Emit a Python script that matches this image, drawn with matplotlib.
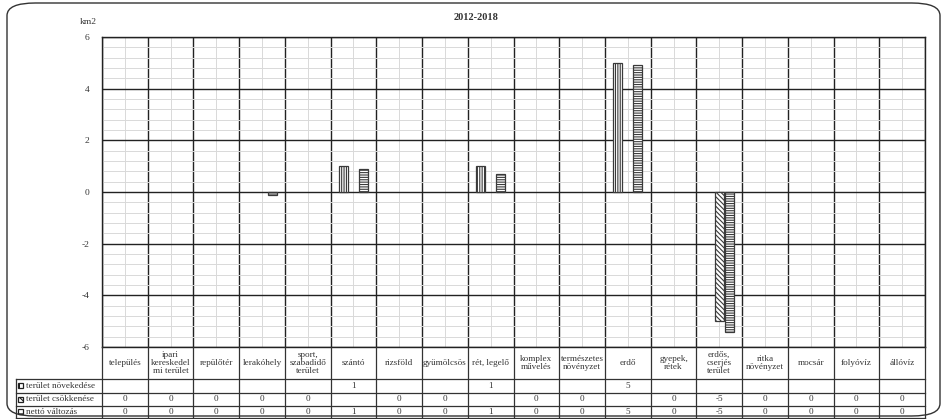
import numpy as np
import matplotlib
matplotlib.use('Agg')
import matplotlib.pyplot as plt
from matplotlib.patches import Rectangle, FancyBboxPatch

# data
categories = ['település', 'ipari\nkereskedel\nmi terület', 'repülőtér', 'lerakóhely',
              'sport,\nszabadidő\nterület', 'szántó', 'rizsföld', 'gyümölcsös', 'rét, legelő',
              'komplex\nművelés', 'természetes\nnövényzet', 'erdő', 'gyepek,\nrétek',
              'erdős,\ncserjés\nterület', 'ritka\nnövényzet', 'mocsár', 'folyóvíz', 'állóvíz']
series_names = ['terület növekedése', 'terület csökkenése', 'nettó változás']
novekedes = [None, None, None, None, None, 1, None, None, 1, None, None, 5, None, None, None, None, None, None]
csokkenes = [0, 0, 0, 0, 0, None, 0, 0, None, 0, 0, None, 0, -5, 0, 0, 0, 0]
netto = [0, 0, 0, -0.1, 0, 0.88, 0, 0, 0.7, 0, 0, 4.9, 0, -5.43, 0, 0, 0, 0]
y_ticks = [-6, -4, -2, 0, 2, 4, 6]

series = [novekedes, csokkenes, netto]
hatches = ['|||||||', '\\\\\\\\\\\\\\', '-------']

plt.rcParams['font.family'] = ['Liberation Serif', 'DejaVu Serif']
plt.rcParams['hatch.linewidth'] = 0.8
plt.rcParams['axes.unicode_minus'] = False
txt_col = '#333333'

W, H = 947, 419
fig = plt.figure(figsize=(W / 100, H / 100), dpi=100)

# outer rounded frame
frame = FancyBboxPatch((7 / W, 1 - 416 / H), 933 / W, 413 / H,
                       boxstyle='round,pad=0,rounding_size=0.03',
                       transform=fig.transFigure, fill=False, ec='#333333', lw=1.0)
fig.patches.append(frame)

pl, pr, pt, pb = 102, 925, 37, 347
ax = fig.add_axes([pl / W, 1 - pb / H, (pr - pl) / W, (pb - pt) / H])
n = len(categories)
x = np.arange(n)
ax.set_xlim(-0.5, n - 0.5)
ax.set_ylim(-6, 6)

# grid
ax.set_yticks(y_ticks)
ax.set_yticks(np.arange(-6, 6.01, 0.4), minor=True)
ax.set_xticks(np.arange(-0.5, n, 1.0))
ax.set_xticks(x, minor=True)
ax.grid(which='minor', color='#d9d9d9', lw=0.7)
ax.grid(which='major', color='#222222', lw=1.0)
ax.set_axisbelow(True)
ax.tick_params(which='both', length=0)
ax.tick_params(axis='x', labelbottom=False)
ax.tick_params(axis='y', labelsize=6.8, labelcolor=txt_col, pad=9)
for s in ax.spines.values():
    s.set_color('#222222')
    s.set_linewidth(1.0)

bw = 0.2
offsets = [-0.22, 0.0, 0.22]
for vals, off, h in zip(series, offsets, hatches):
    v = np.array([0 if a is None else a for a in vals], dtype=float)
    mask = v != 0
    ax.bar(x[mask] + off, v[mask], width=bw, color='white', edgecolor='#3a3a3a',
           hatch=h, lw=0.9, zorder=3)

fig.text(88 / W, 1 - 22 / H, 'km2', ha='center', va='center', fontsize=6.8, color=txt_col)
fig.text(476 / W, 1 - 18 / H, '2012-2018', ha='center', va='center', fontsize=7.5,
         color=txt_col, fontweight='bold')

# data table
tl, tb = 16, 418
hdr_w = (pl - tl) / ((pr - pl) / n)
tax = fig.add_axes([tl / W, 1 - tb / H, (pr - tl) / W, (tb - pb) / H])
tax.set_xlim(-0.5 - hdr_w, n - 0.5)
tax.set_ylim(tb - pb, 0)
tax.axis('off')
row_y = [0, 32, 45.5, 58.5, tb - pb]
lc = '#333333'
for i in range(n + 1):
    tax.plot([i - 0.5, i - 0.5], [row_y[0], row_y[-1]], color=lc, lw=0.9, clip_on=False)
tax.plot([-0.5 - hdr_w] * 2, [row_y[1], row_y[-1]], color=lc, lw=0.9, clip_on=False)
for yy in row_y[1:]:
    tax.plot([-0.5 - hdr_w, n - 0.5], [yy, yy], color=lc, lw=0.9, clip_on=False)

for i, c in enumerate(categories):
    tax.text(i, row_y[1] / 2, c, ha='center', va='center', fontsize=6.6,
             color=txt_col, linespacing=1.05)

for r, (name, vals, h) in enumerate(zip(series_names, series, hatches)):
    yc = (row_y[r + 1] + row_y[r + 2]) / 2
    kx = -0.5 - hdr_w + 0.05
    tax.add_patch(Rectangle((kx, yc - 2.5), 0.11, 5, facecolor='white', edgecolor='#222222',
                            hatch=h[:3], lw=0.9, clip_on=False))
    tax.text(kx + 0.16, yc, name, ha='left', va='center', fontsize=6.6, color=txt_col)
    for i, v in enumerate(vals):
        if v is None:
            continue
        tax.text(i, yc, str(int(round(v))), ha='center', va='center', fontsize=6.6, color=txt_col)

fig.savefig('out.png', dpi=100)
